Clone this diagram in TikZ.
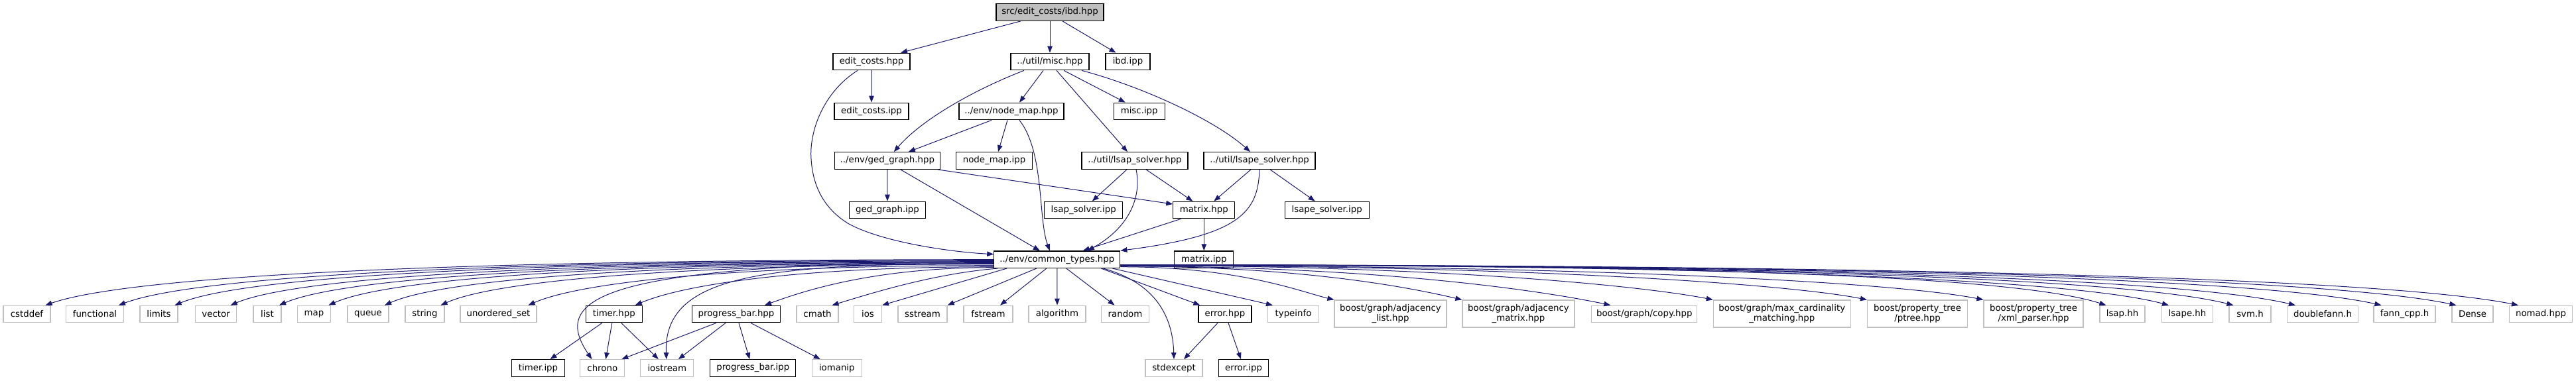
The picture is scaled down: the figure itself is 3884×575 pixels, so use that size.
\documentclass[tikz,border=0pt]{standalone}
\usepackage{fontspec}
\setmainfont{DejaVu Sans}
\usetikzlibrary{arrows.meta}
\definecolor{edgecol}{HTML}{191970}
\definecolor{extgray}{HTML}{BFBFBF}
\begin{document}
\begin{tikzpicture}[x=1pt,y=-1pt,
  box/.style={draw=black, line width=1.2pt, fill=white, minimum height=25.6pt, inner sep=0pt, font=\fontsize{13.33}{14.7}\selectfont, align=center},
  ext/.style={box, draw=extgray},
  exttwo/.style={ext, minimum height=41pt},
  rootbox/.style={box, fill=extgray},
  edge/.style={draw=edgecol, line width=1pt, -{Triangle[length=10pt,width=7.5pt]}},
]
\useasboundingbox (0,0) rectangle (3884,575);
% ---- nodes
\node[rootbox, minimum width=162] (root) at (1583,18.5) {src/edit\_costs/ibd.hpp};
\node[box, minimum width=116] (ec) at (1314,93) {edit\_costs.hpp};
\node[box, minimum width=118] (misc) at (1583,93) {../util/misc.hpp};
\node[box, minimum width=67] (ibd) at (1700.5,93) {ibd.ipp};
\node[box, minimum width=112] (eci) at (1314,168) {edit\_costs.ipp};
\node[box, minimum width=158] (nm) at (1525,168) {../env/node\_map.hpp};
\node[box, minimum width=77] (mi) at (1717.7,168) {misc.ipp};
\node[box, minimum width=159] (ged) at (1337.8,242.5) {../env/ged\_graph.hpp};
\node[box, minimum width=115] (nmi) at (1499,242.5) {node\_map.ipp};
\node[box, minimum width=160] (lsap) at (1711,242.5) {../util/lsap\_solver.hpp};
\node[box, minimum width=168] (lsape) at (1899,242.5) {../util/lsape\_solver.hpp};
\node[box, minimum width=115] (gedi) at (1338,317) {ged\_graph.ipp};
\node[box, minimum width=118] (lsapi) at (1633.7,317) {lsap\_solver.ipp};
\node[box, minimum width=93] (mat) at (1815.3,317) {matrix.hpp};
\node[box, minimum width=127] (lsapei) at (2000.7,317) {lsape\_solver.ipp};
\node[box, minimum width=190] (ct) at (1593.8,391.7) {../env/common\_types.hpp};
\node[box, minimum width=89] (mati) at (1815.3,391.7) {matrix.ipp};
% row 5
\node[ext, minimum width=71] (cstddef) at (40.5,474) {cstddef};
\node[ext, minimum width=87] (functional) at (143,474) {functional};
\node[ext, minimum width=57] (limits) at (239.5,474) {limits};
\node[ext, minimum width=62] (vector) at (325.6,474) {vector};
\node[ext, minimum width=42] (list) at (403,474) {list};
\node[ext, minimum width=50] (map) at (473.5,474) {map};
\node[ext, minimum width=62] (queue) at (555,474) {queue};
\node[ext, minimum width=59] (string) at (640.5,474) {string};
\node[ext, minimum width=115] (uset) at (751.5,474) {unordered\_set};
\node[box, minimum width=85] (timer) at (925.8,474) {timer.hpp};
\node[box, minimum width=133] (pb) at (1110,474) {progress\_bar.hpp};
\node[ext, minimum width=63] (cmath) at (1232.5,474) {cmath};
\node[ext, minimum width=42] (ios) at (1308.5,474) {ios};
\node[ext, minimum width=74] (sstream) at (1391,474) {sstream};
\node[ext, minimum width=74] (fstream) at (1490,474) {fstream};
\node[ext, minimum width=86] (alg) at (1594,474) {algorithm};
\node[ext, minimum width=72] (random) at (1696.5,474) {random};
\node[box, minimum width=80] (err) at (1847,474) {error.hpp};
\node[ext, minimum width=77] (typeinfo) at (1950,474) {typeinfo};
\node[exttwo, minimum width=169] (adjl) at (2096.5,473.5) {boost/graph/adjacency\\\_list.hpp};
\node[exttwo, minimum width=169] (adjm) at (2289.5,473.5) {boost/graph/adjacency\\\_matrix.hpp};
\node[ext, minimum width=159] (copy) at (2479.3,474) {boost/graph/copy.hpp};
\node[exttwo, minimum width=207] (maxc) at (2686.8,473.5) {boost/graph/max\_cardinality\\\_matching.hpp};
\node[exttwo, minimum width=151] (ptree) at (2891,473.5) {boost/property\_tree\\/ptree.hpp};
\node[exttwo, minimum width=150] (xmlp) at (3066,473.5) {boost/property\_tree\\/xml\_parser.hpp};
\node[ext, minimum width=68] (lsaphh) at (3200,474) {lsap.hh};
\node[ext, minimum width=77] (lsapehh) at (3298,474) {lsape.hh};
\node[ext, minimum width=63] (svm) at (3392.5,474) {svm.h};
\node[ext, minimum width=107] (dfann) at (3502,474) {doublefann.h};
\node[ext, minimum width=93] (fann) at (3625.5,474) {fann\_cpp.h};
\node[ext, minimum width=62] (dense) at (3728,474) {Dense};
\node[ext, minimum width=95] (nomad) at (3831,474) {nomad.hpp};
% row 6
\node[box, minimum width=80] (timeri) at (811.5,555.5) {timer.ipp};
\node[ext, minimum width=67] (chrono) at (908.3,555.5) {chrono};
\node[ext, minimum width=80] (iost) at (1005.8,555.5) {iostream};
\node[box, minimum width=129] (pbi) at (1135.3,555.5) {progress\_bar.ipp};
\node[ext, minimum width=75] (iom) at (1261.8,555.5) {iomanip};
\node[ext, minimum width=86] (stdx) at (1770,555.5) {stdexcept};
\node[box, minimum width=75] (erri) at (1875,555.5) {error.ipp};
% ---- edges top
\draw[edge] ([xshift=-44]root.south) -- ([xshift=44]ec.north);
\draw[edge] (root.south) -- (misc.north);
\draw[edge] ([xshift=19]root.south) -- ([xshift=-18]ibd.north);
\draw[edge] (ec.south) -- (eci.north);
\draw[edge] ([xshift=-21]ec.south) .. controls (1240,140) and (1220,200) .. (1223,240) .. controls (1226,290) and (1250,320) .. (1280,338) .. controls (1330,365) and (1430,380) .. ([yshift=8]ct.west);
\draw[edge] ([xshift=-39]misc.south) .. controls (1470,135) and (1390,180) .. ([xshift=10]ged.north);
\draw[edge] ([xshift=-10]misc.south) -- ([xshift=12]nm.north);
\draw[edge] ([xshift=10]misc.south) -- ([xshift=-11]lsap.north);
\draw[edge] ([xshift=21]misc.south) -- ([xshift=-21]mi.north);
\draw[edge] ([xshift=48]misc.south) .. controls (1720,130) and (1830,180) .. ([xshift=-14]lsape.north);
\draw[edge] ([xshift=-30]nm.south) -- ([xshift=32]ged.north);
\draw[edge] ([xshift=-6]nm.south) -- ([xshift=6]nmi.north);
\draw[edge] ([xshift=12]nm.south) .. controls (1575,230) and (1565,330) .. ([xshift=-11]ct.north);
\draw[edge] (ged.south) -- (gedi.north);
\draw[edge] ([xshift=20]ged.south) -- ([xshift=-26]ct.north);
\draw[edge] ([xshift=76]ged.south) -- ([yshift=9]mat.west);
\draw[edge] ([xshift=-12]lsap.south) -- ([xshift=13]lsapi.north);
\draw[edge] ([xshift=2]lsap.south) .. controls (1722,300) and (1700,345) .. ([xshift=46]ct.north);
\draw[edge] ([xshift=17]lsap.south) -- ([xshift=-17]mat.north);
\draw[edge] ([xshift=-13]lsape.south) -- ([xshift=15]mat.north);
\draw[edge] (lsape.south) .. controls (1897,320) and (1870,355) .. (ct.north east);
\draw[edge] ([xshift=16]lsape.south) -- ([xshift=-18]lsapei.north);
\draw[edge] ([xshift=-35]mat.south) -- ([xshift=39]ct.north);
\draw[edge] (mat.south) -- (mati.north);
% ---- common_types to the left
\draw[edge] (ct.west) .. controls +(-800,0) and +(130,-45) .. ([xshift=28]cstddef.north);
\draw[edge] ([yshift=-1]ct.west) .. controls +(-740,0) and +(120,-45) .. ([xshift=36]functional.north);
\draw[edge] ([yshift=-2]ct.west) .. controls +(-690,0) and +(110,-45) .. ([xshift=24]limits.north);
\draw[edge] ([yshift=-3]ct.west) .. controls +(-640,0) and +(105,-44) .. ([xshift=22]vector.north);
\draw[edge] ([yshift=-4]ct.west) .. controls +(-600,0) and +(100,-43) .. ([xshift=18]list.north);
\draw[edge] ([yshift=-5]ct.west) .. controls +(-560,0) and +(95,-42) .. ([xshift=22]map.north);
\draw[edge] ([yshift=-6]ct.west) .. controls +(-510,0) and +(90,-40) .. ([xshift=25]queue.north);
\draw[edge] ([yshift=-7]ct.west) .. controls +(-460,0) and +(85,-38) .. ([xshift=24]string.north);
\draw[edge] ([yshift=-9]ct.west) .. controls +(-390,0) and +(80,-35) .. ([xshift=45]uset.north);
\draw[edge] ([yshift=-11]ct.west) .. controls +(-300,0) and +(70,-30) .. ([xshift=32]timer.north);
\draw[edge] ([yshift=-3]ct.west) .. controls (900,398) and (830,450) .. ([xshift=-16]chrono.north);
\draw[edge] ([yshift=-6]ct.west) .. controls (1150,398) and (1000,415) .. ([xshift=-1]iost.north);
\draw[edge] ([yshift=-12]ct.west) .. controls +(-180,0) and +(60,-22) .. ([xshift=43]pb.north);
\draw[edge] ([xshift=6]ct.south west) .. controls +(-100,8) and +(50,-15) .. ([xshift=22]cmath.north);
\draw[edge] ([xshift=-76]ct.south) -- (ios.north east);
\draw[edge] ([xshift=-31]ct.south) -- (sstream.north east);
\draw[edge] ([xshift=-16]ct.south) -- ([xshift=18]fstream.north);
\draw[edge] (ct.south) -- (alg.north);
\draw[edge] ([xshift=14]ct.south) -- ([xshift=-16]random.north);
% ---- common_types to the right
\draw[edge] ([xshift=-29]ct.south east) -- ([xshift=3]err.north west);
\draw[edge] ([xshift=-26]ct.south east) .. controls (1735,425) and (1768,470) .. (stdx.north);
\draw[edge] ([xshift=-12]ct.south east) -- ([xshift=8]typeinfo.north west);
\draw[edge] ([yshift=-11]ct.east) .. controls +(180,0) and +(-50,-12) .. (adjl.north west);
\draw[edge] ([yshift=-10]ct.east) .. controls +(290,0) and +(-60,-14) .. (adjm.north west);
\draw[edge] ([yshift=-10]ct.east) .. controls +(420,0) and +(-75,-16) .. ([xshift=-51]copy.north);
\draw[edge] ([yshift=-9]ct.east) .. controls +(510,0) and +(-90,-18) .. (maxc.north west);
\draw[edge] ([yshift=-9]ct.east) .. controls +(640,0) and +(-110,-22) .. (ptree.north west);
\draw[edge] ([yshift=-9]ct.east) .. controls +(740,0) and +(-125,-25) .. (xmlp.north west);
\draw[edge] ([yshift=-8]ct.east) .. controls +(850,0) and +(-140,-45) .. ([xshift=10]lsaphh.north west);
\draw[edge] ([yshift=-8]ct.east) .. controls +(900,0) and +(-150,-40) .. ([xshift=11]lsapehh.north west);
\draw[edge] ([yshift=-8]ct.east) .. controls +(960,0) and +(-160,-40) .. ([xshift=7]svm.north west);
\draw[edge] ([yshift=-8]ct.east) .. controls +(1010,0) and +(-170,-40) .. ([xshift=13]dfann.north west);
\draw[edge] ([yshift=-8]ct.east) .. controls +(1080,0) and +(-180,-40) .. ([xshift=12]fann.north west);
\draw[edge] ([yshift=-8]ct.east) .. controls +(1150,0) and +(-190,-40) .. ([xshift=7]dense.north west);
\draw[edge] ([yshift=-8]ct.east) .. controls +(1200,0) and +(-200,-40) .. ([xshift=14]nomad.north west);
% ---- lower edges
\draw[edge] ([xshift=-18]timer.south) -- ([xshift=18]timeri.north);
\draw[edge] ([xshift=-3]timer.south) -- ([xshift=5]chrono.north);
\draw[edge] ([xshift=11]timer.south) -- ([xshift=-13]iost.north);
\draw[edge] ([xshift=-30]pb.south) -- ([xshift=29]chrono.north);
\draw[edge] ([xshift=-16]pb.south) -- ([xshift=17]iost.north);
\draw[edge] ([xshift=4]pb.south) -- ([xshift=-5]pbi.north);
\draw[edge] ([xshift=22]pb.south) -- ([xshift=-25]iom.north);
\draw[edge] ([xshift=-11]err.south) -- ([xshift=15]stdx.north);
\draw[edge] ([xshift=5]err.south) -- ([xshift=-4]erri.north);
\end{tikzpicture}
\end{document}
